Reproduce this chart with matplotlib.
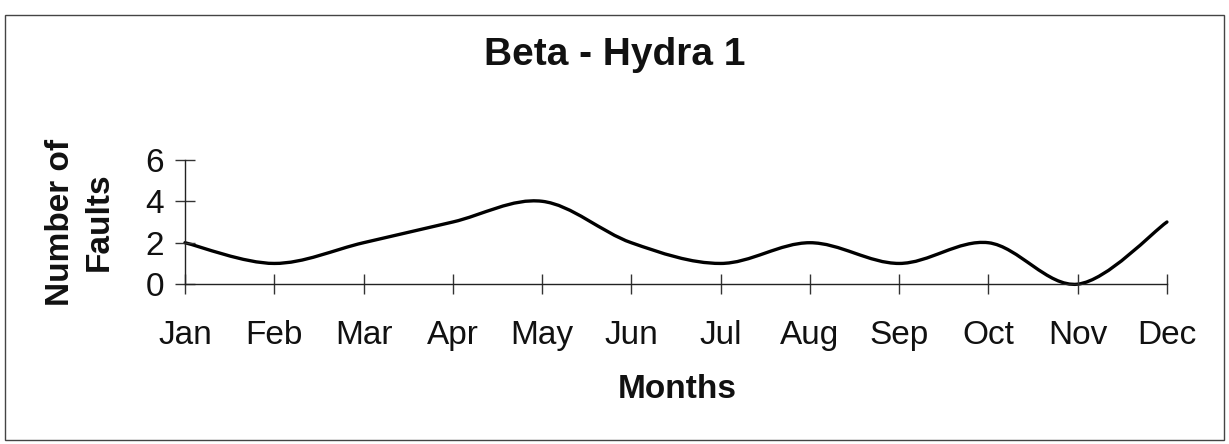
import matplotlib
matplotlib.use("Agg")
import matplotlib.pyplot as plt
from matplotlib.path import Path
from matplotlib.patches import PathPatch, Rectangle
import numpy as np

plt.rcParams["font.family"] = ["Liberation Sans", "DejaVu Sans"]

months = ["Jan", "Feb", "Mar", "Apr", "May", "Jun",
          "Jul", "Aug", "Sep", "Oct", "Nov", "Dec"]
faults = [2, 1, 2, 3, 4, 2, 1, 2, 1, 2, 0, 3]
y_ticks = [0, 2, 4, 6]

title = "Beta - Hydra 1"
x_title = "Months"
y_title = "Number of\nFaults"


def smooth_path(xs, ys):
    """Catmull-Rom style cubic Bezier through every point (Excel-like smoothed line)."""
    pts = np.column_stack([xs, ys]).astype(float)
    n = len(pts)
    verts = [pts[0]]
    codes = [Path.MOVETO]
    for i in range(n - 1):
        p0 = pts[i - 1] if i > 0 else pts[i]
        p1 = pts[i]
        p2 = pts[i + 1]
        p3 = pts[i + 2] if i + 2 < n else pts[i + 1]
        c1 = p1 + (p2 - p0) / 6.0
        c2 = p2 - (p3 - p1) / 6.0
        verts += [c1, c2, p2]
        codes += [Path.CURVE4] * 3
    return Path(verts, codes)


fig = plt.figure(figsize=(12.29, 4.44), dpi=100)
ax = fig.add_axes([0.1505, 0.360, 0.799, 0.280])

x = np.arange(len(months))
patch = PathPatch(smooth_path(x, faults), facecolor="none",
                  edgecolor="black", linewidth=2.4, clip_on=False,
                  capstyle="round", joinstyle="round")
ax.add_patch(patch)

ax.set_xlim(0, len(months) - 1)
ax.set_ylim(0, 6)
ax.set_xticks(x)
ax.set_xticklabels(months)
ax.set_yticks(y_ticks)

for side in ("top", "right"):
    ax.spines[side].set_visible(False)
for side in ("left", "bottom"):
    ax.spines[side].set_linewidth(1.0)
    ax.spines[side].set_color("#222222")

ax.tick_params(axis="both", direction="inout", length=14, width=1.0,
               color="#333333", labelsize=24, labelcolor="#111111")
ax.tick_params(axis="x", pad=19)
ax.tick_params(axis="y", pad=8)

fig.text(0.500, 0.876, title, ha="center", va="center",
         fontsize=28, fontweight="bold", color="#111111")
fig.text(0.551, 0.122, x_title, ha="center", va="center",
         fontsize=24, fontweight="bold", color="#111111")
fig.text(0.065, 0.500, y_title, ha="center", va="center", rotation=90,
         multialignment="center", linespacing=1.35,
         fontsize=24, fontweight="bold", color="#111111")

# outer chart frame
fig.patches.append(Rectangle((0.004, 0.008), 0.992, 0.958,
                             transform=fig.transFigure, fill=False,
                             edgecolor="#444444", linewidth=1.0))

fig.savefig("out.png", dpi=100, facecolor="white")
